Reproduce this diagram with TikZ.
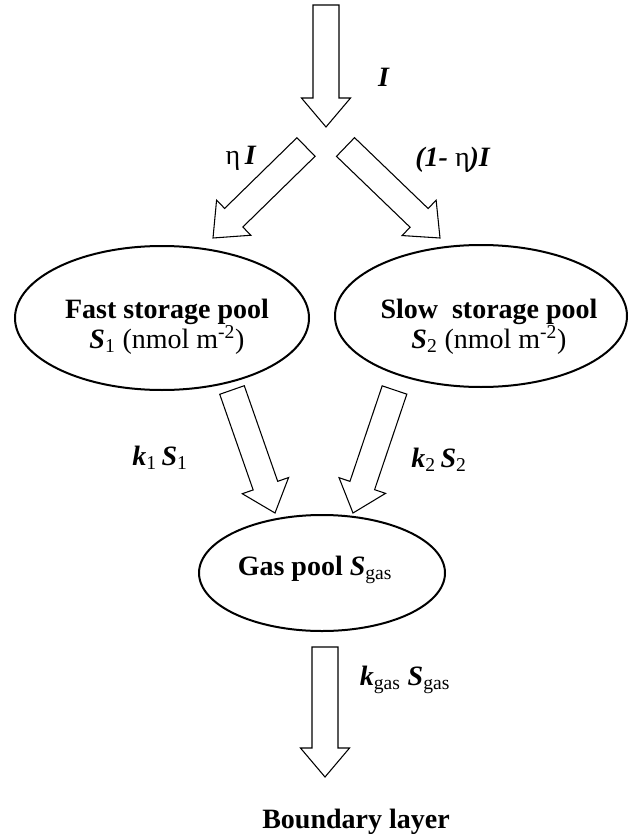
\documentclass[tikz,border=0pt]{standalone}
\usepackage{fontspec}
\setmainfont{Liberation Serif}
\usetikzlibrary{calc,shapes.geometric}
\newcommand{\bi}[1]{\textbf{\textit{#1}}}
% hollow block arrow, tail #1 to tip #2
\newcommand{\blockarrow}[2]{%
  \coordinate (hb) at ($(#2)!21.75pt!(#1)$);
  \draw[flow] ($(#1)!9.75pt!90:(#2)$) -- ($(hb)!9.75pt!90:(#2)$) -- ($(hb)!18.4pt!90:(#2)$) -- (#2)
    -- ($(hb)!18.4pt!-90:(#2)$) -- ($(hb)!9.75pt!-90:(#2)$) -- ($(#1)!9.75pt!-90:(#2)$) -- cycle;}

\begin{document}
\begin{tikzpicture}[x=0.75pt, y=-0.75pt,
  pool/.style={draw, ellipse, line width=1.5pt, inner sep=0pt},
  pooltext/.style={align=center, font=\fontsize{21}{22.5}\selectfont},
  lab/.style={font=\fontsize{21}{25}\selectfont},
  flow/.style={draw, line width=0.8pt, fill=white, line join=miter}
]
\useasboundingbox (0,0) rectangle (632,834);
\node[pool, minimum width=220.5pt, minimum height=108pt] (fast) at (162,318) {};
\node[pool, minimum width=219pt, minimum height=106.5pt] (slow) at (481,316) {};
\node[pool, minimum width=184.5pt, minimum height=87pt] (gas) at (322,573) {};
\node[pooltext] (fasttext) at (167,327) {\textbf{Fast storage pool}\\\bi{S}\textsubscript{1} (nmol m\textsuperscript{-2})};
\node[pooltext] (slowtext) at (489,327) {\textbf{Slow\ \ storage pool}\\\bi{S}\textsubscript{2} (nmol m\textsuperscript{-2})};
\node[pooltext, anchor=base] (gastext) at (315,575) {\textbf{Gas pool }\bi{S}\textsubscript{gas}};
\node[lab, anchor=base] (bl) at (356,828) {\textbf{Boundary layer}};
% fluxes
\coordinate (src) at (326,5);
\coordinate (split) at (326,127);
\coordinate (lt) at (306,147);
\coordinate (rt) at (345.5,147);
\coordinate (fastin) at (213,238);
\coordinate (slowin) at (440,238);
\coordinate (fastout) at (232,390);
\coordinate (slowout) at (394.5,390);
\coordinate (gasin1) at (275,513);
\coordinate (gasin2) at (353,513);
\coordinate (gasout) at (325,647);
\coordinate (blin) at (325,777);
\blockarrow{src}{split}
\blockarrow{lt}{fastin}
\blockarrow{rt}{slowin}
\blockarrow{fastout}{gasin1}
\blockarrow{slowout}{gasin2}
\blockarrow{gasout}{blin}
\node[lab] (iin) at (384,77) {\bi{I}};
\node[lab] (ifast) at (241,158) {η\,\bi{I}};
\node[lab] (islow) at (453,160) {\bi{(1-} η\bi{)I}};
\node[lab] (k1) at (160,458) {\bi{k}\textsubscript{1}\,\bi{S}\textsubscript{1}};
\node[lab] (k2) at (439,460) {\bi{k}\textsubscript{2}\,\bi{S}\textsubscript{2}};
\node[lab] (kgas) at (405,680) {\bi{k}\textsubscript{gas} \bi{S}\textsubscript{gas}};
\end{tikzpicture}
\end{document}
